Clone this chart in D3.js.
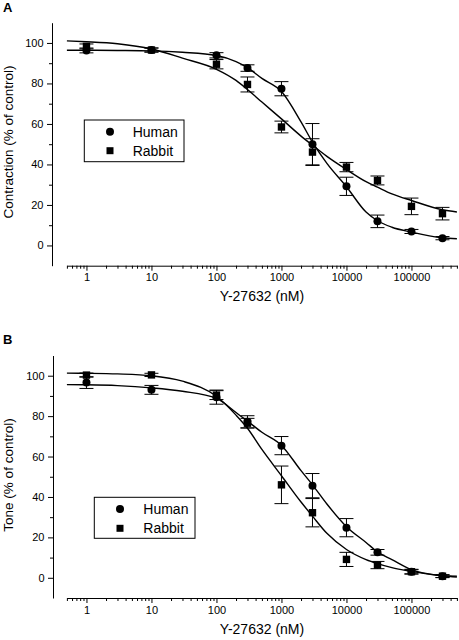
<!DOCTYPE html>
<html><head><meta charset="utf-8">
<script src="https://cdn.jsdelivr.net/npm/d3@7"></script>
<style>body{margin:0;background:#fff}svg{display:block}</style>
</head><body><svg id="c" width="459" height="640"></svg>
<script>
// ---- data ----
const concentrations = [1, 10, 100, 300, 1000, 3000, 10000, 30000, 100000, 300000];
const contractionHuman = [96.3, 96.5, 93.9, 87.6, 77.4, 50, 29.2, 11.9, 6.9, 3.6];
const contractionHumanErr = [1.2, 1, 1.3, 1.6, 3.5, 10.2, 4.5, 3.1, 1, 0.8];
const contractionRabbit = [98.3, 96.5, 89.5, 79.5, 58.5, 46.1, 38.7, 32.1, 19.3, 15.7];
const contractionRabbitErr = [1.2, 1, 2.3, 3.7, 2.9, 6.6, 2.3, 2.2, 4.1, 3.1];
const toneHuman = [96.6, 93, 89.4, 77.2, 65.4, 45.6, 24.8, 12.6, 3, 0.8];
const toneHumanErr = [2.9, 2.2, 3.5, 3, 4.5, 6, 4.5, 1.4, 1, 0.7];
const toneRabbit = [100.3, 100.4, 90.4, 76.5, 46, 32.2, 9.1, 6.3, 3, 0.8];
const toneRabbitErr = [1, 0.8, 2.2, 2.4, 9.3, 7, 3.5, 1.8, 1.2, 0.7];

// fitted curves
const curveConc = [0.5, 1, 3, 10, 30, 100, 200, 300, 500, 1000, 2000, 3000, 5000, 10000, 20000, 30000, 50000, 100000, 300000, 500000];
const contractionHumanFit = [96.4, 96.4, 96.3, 96.1, 95.4, 93.8, 90.8, 87.8, 82.5, 76, 61, 51, 40.5, 29, 16.5, 12.2, 9, 6.6, 3.8, 3.3];
const contractionRabbitFit = [101, 100.6, 99.6, 97, 92.5, 87, 81.5, 77, 70.8, 62.5, 54, 49.5, 44, 37.5, 31.5, 28.8, 25.5, 22.2, 17.6, 16.5];
const toneHumanFit = [95.6, 95.5, 95.1, 94, 92.3, 88.8, 81.8, 77.5, 72, 65.5, 53, 46, 36.5, 25.3, 17.5, 12.8, 9, 4, 1, 0.4];
const toneRabbitFit = [101.3, 101.2, 100.9, 100, 97.3, 89.8, 80.5, 74, 63.5, 50.5, 37.5, 30.5, 22, 14, 9, 7, 5, 3.2, 1, 0.8];

const xTicks = [1, 10, 100, 1000, 10000, 100000];
const yTicks = [0, 20, 40, 60, 80, 100];
const yMinorTicks = [10, 30, 50, 70, 90];
const seriesNames = ["Human", "Rabbit"];
const xTitle = "Y-27632 (nM)";

// ---- drawing ----
const FONT = "'Liberation Sans', Arial, Helvetica, sans-serif";
const svg = d3.select("#c");
svg.append("rect").attr("width", 459).attr("height", 640).attr("fill", "#fff");

const xMinor = [];
for (let e = -1; e <= 5; e++) for (let m = 1; m <= 9; m++) {
  const v = m * Math.pow(10, e);
  if (v >= 0.5 && v <= 500000 && m !== 1) xMinor.push(v);
}

function panel(cfg) {
  const g = svg.append("g");
  const x = d3.scaleLog().domain([0.5, 500000]).range([66.9, 456.9]);
  const y = d3.scaleLinear().domain([-10, 110]).range([cfg.yBottom, cfg.yTop]);

  // y axis
  g.append("g").attr("transform", `translate(${cfg.yAxisX},0)`)
    .call(d3.axisLeft(y).tickValues(yTicks).tickSize(5).tickSizeOuter(0).tickPadding(3.5).tickFormat(d3.format("d")));
  g.append("g").attr("transform", `translate(${cfg.yAxisX},0)`)
    .call(d3.axisLeft(y).tickValues(yMinorTicks).tickSize(3).tickSizeOuter(0).tickFormat(""))
    .select(".domain").remove();
  // x axis
  g.append("g").attr("transform", `translate(0,${cfg.yBottom})`)
    .call(d3.axisBottom(x).tickValues(xTicks).tickSize(5).tickSizeOuter(0).tickPadding(3).tickFormat(d3.format("d")));
  g.append("g").attr("transform", `translate(0,${cfg.yBottom})`)
    .call(d3.axisBottom(x).tickValues(xMinor).tickSize(3).tickSizeOuter(0).tickFormat(""))
    .select(".domain").remove();
  g.selectAll(".tick text").attr("font-family", FONT).attr("font-size", 11).attr("fill", "#000");
  g.selectAll(".domain, .tick line").attr("stroke", "#000").attr("stroke-width", 1);

  // labels
  g.append("text").attr("x", 3).attr("y", cfg.labelY).text(cfg.label)
    .attr("font-family", FONT).attr("font-weight", "bold").attr("font-size", 13);
  g.append("text").attr("transform", `translate(12.5,${cfg.yTitleY}) rotate(-90)`)
    .attr("text-anchor", "middle").attr("font-family", FONT).attr("font-size", 13.5).text(cfg.yTitle);
  g.append("text").attr("x", 262).attr("y", cfg.xTitleY).attr("text-anchor", "middle")
    .attr("font-family", FONT).attr("font-size", 14).text(xTitle);

  // curves
  const line = d3.line().x(d => x(d[0])).y(d => y(d[1])).curve(d3.curveMonotoneX);
  [cfg.humanFit, cfg.rabbitFit].forEach(fit => {
    g.append("path").datum(curveConc.map((c, i) => [c, fit[i]]))
      .attr("d", line).attr("fill", "none").attr("stroke", "#000").attr("stroke-width", 1.4);
  });

  // error bars + markers
  const sets = [
    {vals: cfg.human, err: cfg.humanErr, shape: "circle"},
    {vals: cfg.rabbit, err: cfg.rabbitErr, shape: "square"}
  ];
  sets.forEach(s => {
    const data = concentrations.map((c, i) => ({c, v: s.vals[i], e: s.err[i]}));
    const eb = g.append("g").attr("stroke", "#000").attr("stroke-width", 1);
    data.forEach(d => {
      const cx = x(d.c), y1 = y(d.v + d.e), y2 = y(d.v - d.e);
      eb.append("line").attr("x1", cx).attr("x2", cx).attr("y1", y1).attr("y2", y2);
      eb.append("line").attr("x1", cx - 7).attr("x2", cx + 7).attr("y1", y1).attr("y2", y1);
      eb.append("line").attr("x1", cx - 7).attr("x2", cx + 7).attr("y1", y2).attr("y2", y2);
    });
    if (s.shape === "circle") {
      g.selectAll(null).data(data).enter().append("circle")
        .attr("cx", d => x(d.c)).attr("cy", d => y(d.v)).attr("r", 4).attr("fill", "#000");
    } else {
      g.selectAll(null).data(data).enter().append("rect")
        .attr("x", d => x(d.c) - 3.7).attr("y", d => y(d.v) - 3.7)
        .attr("width", 7.4).attr("height", 7.4).attr("fill", "#000");
    }
  });

  // legend
  const L = cfg.legend;
  const lg = g.append("g");
  lg.append("rect").attr("x", L.x).attr("y", L.y).attr("width", L.w).attr("height", L.h)
    .attr("fill", "#fff").attr("stroke", "#000").attr("stroke-width", 1);
  seriesNames.forEach((name, i) => {
    const my = L.y + L.row0 + i * L.step;
    if (i === 0) lg.append("circle").attr("cx", L.mx).attr("cy", my).attr("r", 4).attr("fill", "#000");
    else lg.append("rect").attr("x", L.mx - 3.5).attr("y", my - 3.5).attr("width", 7).attr("height", 7).attr("fill", "#000");
    lg.append("text").attr("x", L.tx).attr("y", my + 5).attr("font-family", FONT).attr("font-size", 14).text(name);
  });
}

panel({
  label: "A", labelY: 12, yTitle: "Contraction (% of control)", yTitleY: 142,
  yAxisX: 52, yTop: 22.7, yBottom: 265.7, xTitleY: 301,
  human: contractionHuman, humanErr: contractionHumanErr,
  rabbit: contractionRabbit, rabbitErr: contractionRabbitErr,
  humanFit: contractionHumanFit, rabbitFit: contractionRabbitFit,
  legend: {x: 84.3, y: 120, w: 99.7, h: 41.7, row0: 11.7, step: 19, mx: 110, tx: 132.7}
});
panel({
  label: "B", labelY: 344, yTitle: "Tone (% of control)", yTitleY: 475,
  yAxisX: 53, yTop: 355.5, yBottom: 598, xTitleY: 634,
  human: toneHuman, humanErr: toneHumanErr,
  rabbit: toneRabbit, rabbitErr: toneRabbitErr,
  humanFit: toneHumanFit, rabbitFit: toneRabbitFit,
  legend: {x: 94.3, y: 497.3, w: 100.7, h: 41, row0: 11.7, step: 19.3, mx: 120, tx: 143.3}
});
</script>
</body></html>
